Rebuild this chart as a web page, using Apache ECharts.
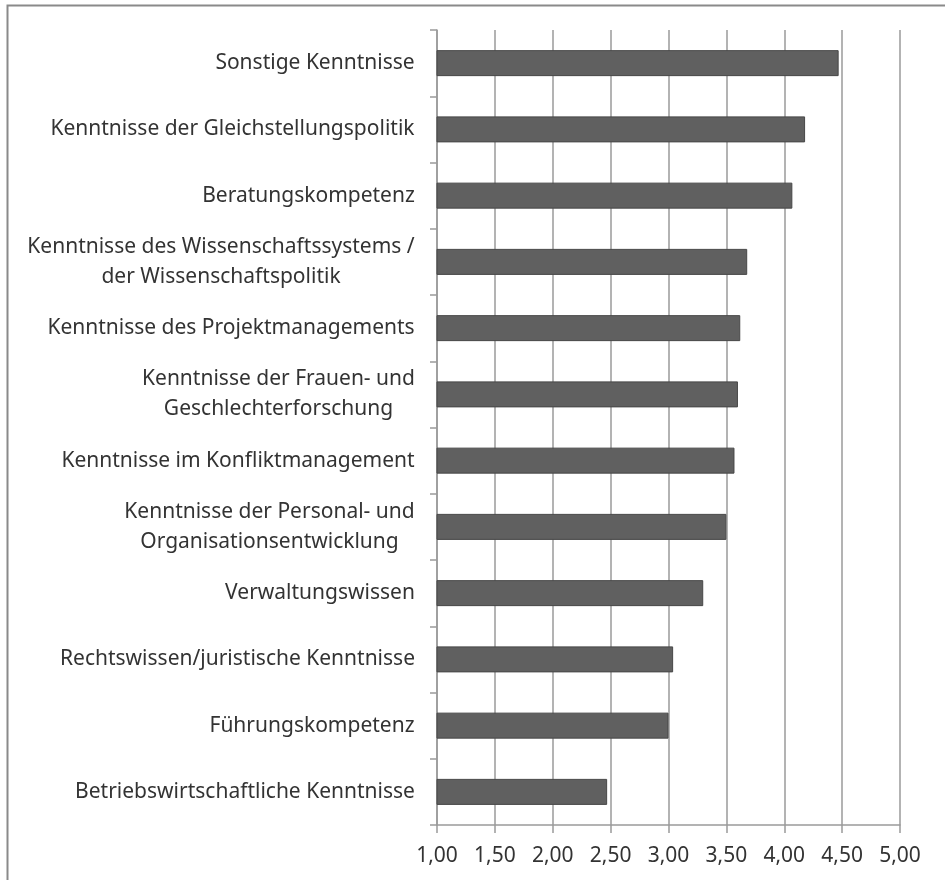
<!DOCTYPE html>
<html>
<head>
<meta charset="utf-8">
<script src="https://cdn.jsdelivr.net/npm/echarts@6/dist/echarts.min.js"></script>
<style>
html,body{margin:0;padding:0;background:#fff;}
#chart{width:945px;height:880px;}
</style>
</head>
<body>
<div id="chart"></div>
<script>
const categories = [
  "Sonstige Kenntnisse",
  "Kenntnisse der Gleichstellungspolitik",
  "Beratungskompetenz",
  "Kenntnisse des Wissenschaftssystems /\nder Wissenschaftspolitik",
  "Kenntnisse des Projektmanagements",
  "Kenntnisse der Frauen- und\nGeschlechterforschung",
  "Kenntnisse im Konfliktmanagement",
  "Kenntnisse der Personal- und\nOrganisationsentwicklung",
  "Verwaltungswissen",
  "Rechtswissen/juristische Kenntnisse",
  "Führungskompetenz",
  "Betriebswirtschaftliche Kenntnisse"
];
const values = [4.47, 4.18, 4.07, 3.68, 3.62, 3.60, 3.57, 3.50, 3.30, 3.04, 3.00, 2.47];
const xMin = 1, xMax = 5, xStep = 0.5;

const FONT_FAMILY = "Noto Sans";
const FONT_SIZE = 21;
const TEXT_COLOR = "#333333";

// measure text for centered multi-line labels
const cv = document.createElement('canvas').getContext('2d');
cv.font = FONT_SIZE + "px '" + FONT_FAMILY + "'";
const rich = {};
categories.forEach((c, i) => {
  const lines = c.split("\n");
  const w = Math.max(...lines.map(l => cv.measureText(l).width));
  rich['m' + i] = {width: Math.ceil(w), align: 'center', fontSize: FONT_SIZE, fontFamily: FONT_FAMILY, color: TEXT_COLOR, lineHeight: 30};
});

const chart = echarts.init(document.getElementById('chart'), null, {renderer: 'canvas'});
chart.setOption({
  backgroundColor: '#ffffff',
  animation: false,
  graphic: [{
    type: 'rect', left: 5, top: 3, silent: true,
    shape: {width: 1000, height: 1000},
    style: {fill: 'none', stroke: '#8a8a8a', lineWidth: 2}
  }],
  grid: {left: 437, right: 45, top: 30, bottom: 55, containLabel: false},
  xAxis: {
    type: 'value', min: xMin, max: xMax, interval: xStep,
    axisLine: {show: true, lineStyle: {color: '#9a9a9a', width: 1.5}},
    axisTick: {show: true, length: 8, lineStyle: {color: '#9a9a9a', width: 1.5}},
    splitLine: {show: true, lineStyle: {color: '#9a9a9a', width: 1.5}},
    axisLabel: {
      margin: 21, fontSize: FONT_SIZE, fontFamily: FONT_FAMILY, color: TEXT_COLOR,
      formatter: v => v.toFixed(2).replace('.', ',')
    }
  },
  yAxis: {
    type: 'category', data: categories, inverse: true,
    axisLine: {show: true, lineStyle: {color: '#9a9a9a', width: 1.5}},
    axisTick: {show: true, length: 7, lineStyle: {color: '#9a9a9a', width: 1.5}},
    axisLabel: {
      margin: 22, align: 'right', fontSize: FONT_SIZE, fontFamily: FONT_FAMILY, color: TEXT_COLOR,
      formatter: (v, i) => {
        const idx = categories.indexOf(v);
        return v.split("\n").map(l => '{m' + idx + '|' + l + '}').join("\n");
      },
      rich: rich
    }
  },
  series: [{
    type: 'bar', data: values, barWidth: 26,
    itemStyle: {color: '#606060', borderColor: '#474747', borderWidth: 1}
  }]
});
</script>
</body>
</html>
